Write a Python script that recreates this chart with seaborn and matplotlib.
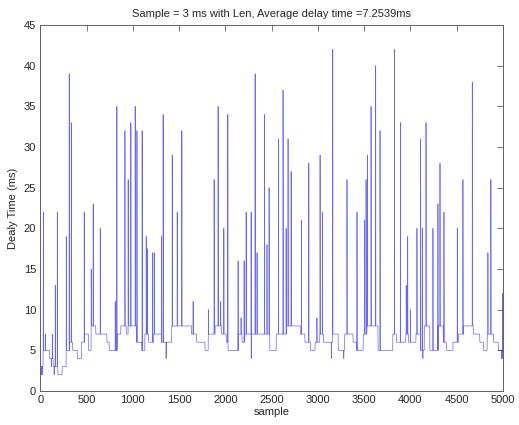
import numpy as np
import pandas as pd
import matplotlib
matplotlib.use("Agg")
import matplotlib.pyplot as plt
import seaborn as sns

# ---- data ----
title_text = "Sample = 3 ms with Len, Average delay time =7.2539ms"
n_samples = 5000

# baseline step levels (segment start sample -> level in ms)
base_starts = [0, 30, 100, 140, 190, 235, 280, 315, 350, 400, 445, 480, 520, 550,
               600, 720, 745, 830, 870, 930, 950, 1040, 1100, 1130, 1170, 1225,
               1310, 1420, 1635, 1690, 1780, 1815, 1890, 1960, 2010, 2030, 2140,
               2180, 2210, 2480, 2550, 2660, 2810, 2860, 2920, 2970, 3020, 3060,
               3160, 3220, 3290, 3380, 3420, 3490, 3530, 3650, 3810, 3850, 3950,
               3980, 4060, 4110, 4150, 4210, 4300, 4355, 4390, 4460, 4520, 4575,
               4680, 4750, 4790, 4830, 4900, 4950]
base_levels = [3, 5, 4, 3, 2, 3, 5, 6, 5, 4, 6, 7, 5, 8,
               7, 6, 5, 7, 8, 7, 8, 6, 5, 7, 6, 7,
               6, 8, 7, 6, 5, 7, 8, 7, 6, 5, 7,
               6, 7, 5, 7, 8, 7, 6, 5, 6, 7, 6,
               7, 5, 7, 6, 5, 7, 8, 5, 7, 6, 7,
               6, 7, 5, 8, 5, 8, 6, 5, 6, 7, 8,
               7, 6, 5, 7, 6, 5]

# delay spikes (sample index, delay in ms)
spike_samples = [33, 54, 130, 162, 184, 281, 313, 335, 475, 551, 572, 648, 810, 828,
                 915, 950, 979, 1026, 1045, 1101, 1145, 1155, 1213, 1231, 1311,
                 1328, 1426, 1480, 1530, 1652, 1818, 1879, 1922, 1950, 1984, 2027,
                 2138, 2170, 2203, 2225, 2279, 2322, 2343, 2423, 2450, 2473, 2575,
                 2624, 2657, 2678, 2711, 2823, 2902, 2990, 3024, 3049, 3161, 3315,
                 3423, 3503, 3521, 3535, 3575, 3625, 3672, 3827, 3892, 3955, 3971,
                 4000, 4071, 4111, 4129, 4169, 4244, 4298, 4320, 4363, 4507, 4568,
                 4669, 4838, 4870, 4995]
spike_values = [22, 7, 7, 13, 22, 19, 39, 33, 22, 15, 23, 20, 11, 35,
                32, 26, 33, 35, 32, 32, 19, 17.5, 17, 17, 19,
                34, 29, 22, 32, 11, 10, 26, 35, 11, 20, 34,
                16, 9, 16, 22, 22, 39, 17, 34, 18, 25, 31,
                37, 20, 31, 27, 21, 28, 9, 29, 22, 42, 26,
                22, 21, 26, 29, 35, 40, 32, 42, 33, 13, 19,
                10, 20, 31, 20, 33, 20, 23, 28, 22, 20, 26,
                38, 17, 26, 12]

# short downward dips (sample index, delay in ms)
dip_samples = [10, 20, 120, 150, 410, 430, 1360, 2280, 3146, 3280, 4135, 4985, 4993]
dip_values = [2, 2, 3, 2, 4, 4, 4, 4, 4, 4, 4, 4, 4]

# ---- build the series ----
samples = np.arange(1, n_samples + 1)
seg = np.searchsorted(np.array(base_starts), samples, side="right") - 1
delay = np.array(base_levels, dtype=float)[seg]
delay[np.array(spike_samples) - 1] = spike_values
delay[np.array(dip_samples) - 1] = dip_values
df = pd.DataFrame({"sample": samples, "delay": delay})

# ---- draw ----
sns.set_style("white")
plt.rcParams["font.family"] = ["Liberation Sans", "DejaVu Sans"]

fig = plt.figure(figsize=(5.19, 4.25), dpi=100)
ax = fig.add_axes([0.0776, 0.08, 0.8914, 0.861])
sns.lineplot(data=df, x="sample", y="delay", ax=ax, color=(0, 0, 1),
             linewidth=0.5, alpha=0.6, estimator=None, errorbar=None)

ax.set_xlim(0, 5000)
ax.set_ylim(0, 45)
ax.set_xticks(np.arange(0, 5001, 500))
ax.set_yticks(np.arange(0, 46, 5))
ax.tick_params(direction="in", top=True, right=True, length=4, width=0.6,
               color="#606060", labelsize=8, pad=3)
for s in ax.spines.values():
    s.set_visible(True)
    s.set_color("#606060")
    s.set_linewidth(0.7)
ax.set_xlabel("sample", fontsize=8, labelpad=1)
ax.set_ylabel("Dealy Time (ms)", fontsize=8, labelpad=4)
ax.set_title(title_text, fontsize=8, pad=6)

fig.savefig("out.png", dpi=100)
